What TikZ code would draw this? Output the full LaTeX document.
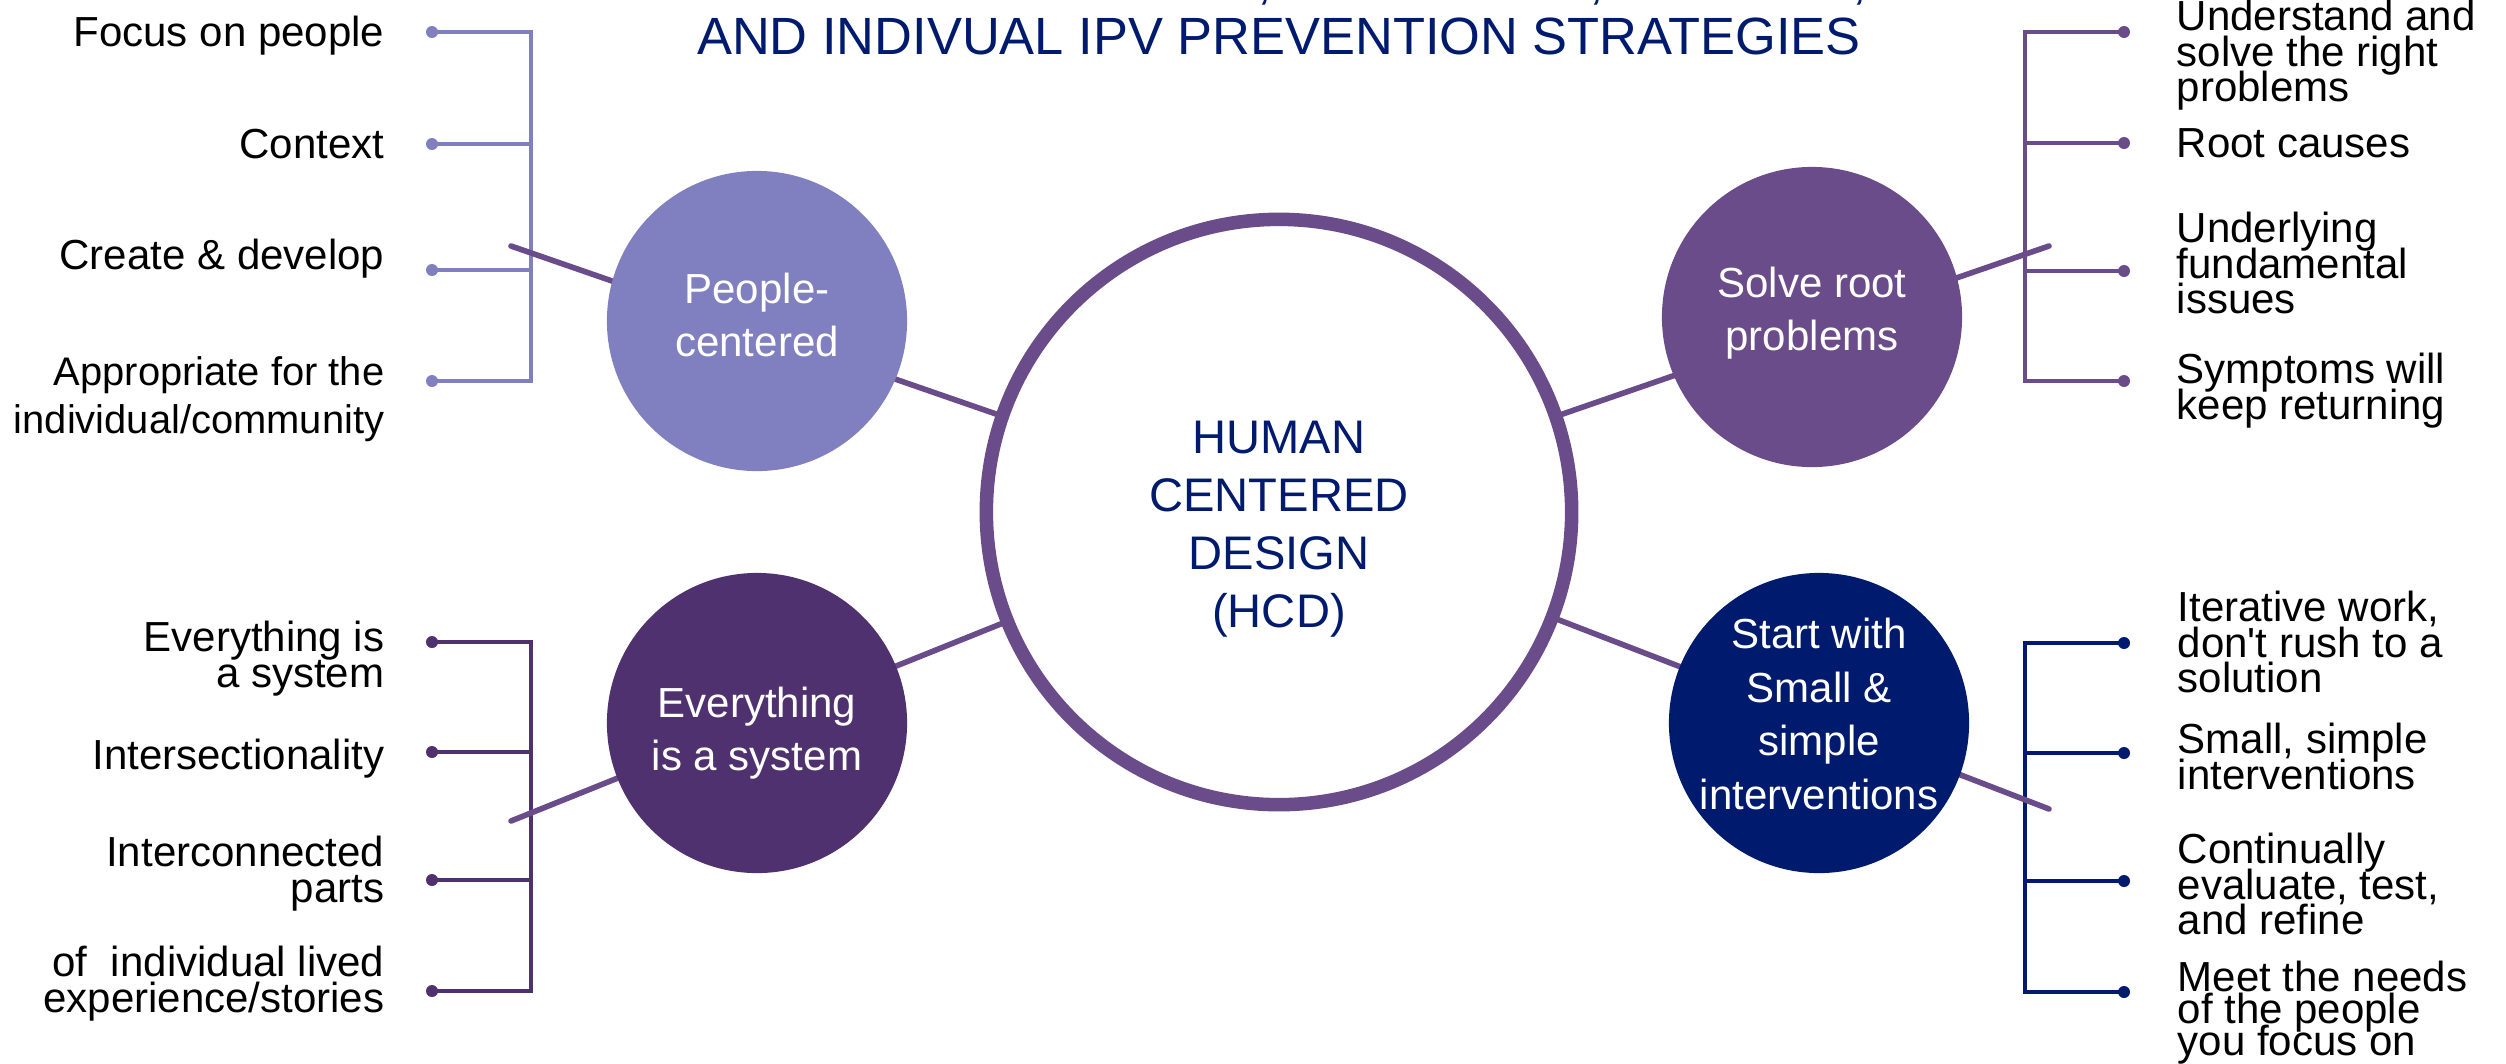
\documentclass[tikz,border=0pt]{standalone}
\usepackage{fontspec}
\setmainfont{Liberation Sans}
\definecolor{lilac}{HTML}{8080C0}
\definecolor{plum}{HTML}{6B4C8A}
\definecolor{grape}{HTML}{4F3170}
\definecolor{ink}{HTML}{001A6E}
\setlength{\lineskiplimit}{-\maxdimen}
\tikzset{
  ttl/.style={text=ink, inner sep=0, font=\fontsize{14.9pt}{17pt}\selectfont},
  hub/.style={circle, draw=plum, line width=3.85pt, fill=white, minimum size=5.85cm, inner sep=0},
  hubtxt/.style={align=center, text=ink, inner sep=0, font=\fontsize{13.4pt}{16.5pt}\selectfont},
  sat/.style={circle, fill=#1, minimum size=3cm, inner sep=0},
  sattxt/.style={align=center, text=white, inner sep=0, font=\fontsize{11.95pt}{15.2pt}\selectfont},
  lbl/.style={inner sep=0, font=\fontsize{11.95pt}{10.2pt}\selectfont},
  brk/.style={draw=#1, line width=1.15pt},
  spoke/.style={draw=plum, line width=1.6pt, line cap=round},
}
\begin{document}
\begin{tikzpicture}[x=0.01cm, y=-0.01cm]
  \useasboundingbox (0,0) rectangle (2506,1063);

  % title
  \node[ttl, anchor=base] (cm1) at (1265,-2) {,};
  \node[ttl, anchor=base] (cm2) at (1597,-2) {,};
  \node[ttl, anchor=base] (cm3) at (1860,-2) {,};
  \node[ttl, anchor=base] (title) at (1279,54) {AND INDIVUAL IPV PREVENTION STRATEGIES};

  % bracket: people-centered
  \coordinate (pc1) at (432,32);
  \coordinate (pc2) at (432,144);
  \coordinate (pc3) at (432,270);
  \coordinate (pc4) at (432,381);
  \coordinate (pcs) at (531,0);
  \draw[brk=lilac] (pc1) -- (pc1 -| pcs) -- (pc4 -| pcs) -- (pc4);
  \draw[brk=lilac] (pc2) -- (pc2 -| pcs) (pc3) -- (pc3 -| pcs);
  \fill[lilac] (pc1) circle (0.06cm) (pc2) circle (0.06cm) (pc3) circle (0.06cm) (pc4) circle (0.06cm);

  % bracket: solve root problems
  \coordinate (sr1) at (2124,32);
  \coordinate (sr2) at (2124,143);
  \coordinate (sr3) at (2124,271);
  \coordinate (sr4) at (2124,381);
  \coordinate (srs) at (2025,0);
  \draw[brk=plum] (sr1) -- (sr1 -| srs) -- (sr4 -| srs) -- (sr4);
  \draw[brk=plum] (sr2) -- (sr2 -| srs) (sr3) -- (sr3 -| srs);
  \fill[plum] (sr1) circle (0.06cm) (sr2) circle (0.06cm) (sr3) circle (0.06cm) (sr4) circle (0.06cm);

  % bracket: everything is a system
  \coordinate (es1) at (432,642);
  \coordinate (es2) at (432,752);
  \coordinate (es3) at (432,880);
  \coordinate (es4) at (432,991);
  \coordinate (ess) at (531,0);
  \draw[brk=grape] (es1) -- (es1 -| ess) -- (es4 -| ess) -- (es4);
  \draw[brk=grape] (es2) -- (es2 -| ess) (es3) -- (es3 -| ess);
  \fill[grape] (es1) circle (0.06cm) (es2) circle (0.06cm) (es3) circle (0.06cm) (es4) circle (0.06cm);

  % bracket: small & simple
  \coordinate (ss1) at (2124,643);
  \coordinate (ss2) at (2124,753);
  \coordinate (ss3) at (2124,881);
  \coordinate (ss4) at (2124,992);
  \coordinate (sss) at (2025,0);
  \draw[brk=ink] (ss1) -- (ss1 -| sss) -- (ss4 -| sss) -- (ss4);
  \draw[brk=ink] (ss2) -- (ss2 -| sss) (ss3) -- (ss3 -| sss);
  \fill[ink] (ss1) circle (0.06cm) (ss2) circle (0.06cm) (ss3) circle (0.06cm) (ss4) circle (0.06cm);

  % central circle
  \node[hub] (hcd) at (1279,512) {};
  \node[hubtxt] (hcdt) at (1279,529) {HUMAN\\CENTERED\\DESIGN\\(HCD)};

  % spokes (behind the small circles)
  \coordinate (pce) at (511,246);
  \coordinate (sre) at (2049,246);
  \coordinate (ese) at (511,821);
  \coordinate (sse) at (2049,809);
  \draw[spoke] (pce) -- (hcd);
  \draw[spoke] (sre) -- (hcd);
  \draw[spoke] (ese) -- (hcd);
  \draw[spoke] (sse) -- (hcd);

  % small circles
  \node[sat=lilac] (pc) at (757,321) {};
  \node[sat=plum] (sr) at (1812,317) {};
  \node[sat=grape] (es) at (757,723) {};
  \node[sat=ink] (ss) at (1819,723) {};
  \node[sattxt] (pct) at (757,315) {People-\\centered};
  \node[sattxt] (srt) at (1812,313) {Solve root\\problems};
  \node[sattxt] (est) at (757,733) {Everything\\is a system};
  \node[sattxt] (sst) at (1819,714) {Start with\\Small \&\\simple\\interventions};

  % left labels
  \node[lbl, anchor=north east] (pcl1) at (385,15) {Focus on people};
  \node[lbl, anchor=north east] (pcl2) at (385,128) {Context};
  \node[lbl, anchor=north east] (pcl3) at (385,238) {Create \& develop};
  \node[lbl, anchor=north east, align=right, font=\fontsize{11.35pt}{13.6pt}\selectfont] (pcl4) at (385,356) {Appropriate for the\\individual/community};
  \node[lbl, anchor=north east, align=right] (esl1) at (385,620) {Everything is\\a system};
  \node[lbl, anchor=north east] (esl2) at (385,738) {Intersectionality};
  \node[lbl, anchor=north east, align=right] (esl3) at (385,835) {Interconnected\\parts};
  \node[lbl, anchor=north east, align=right] (esl4) at (385,945) {of\ \ individual lived\\experience/stories};

  % right labels
  \node[lbl, anchor=north west, align=left] (srl1) at (2176,-1) {Understand and\\solve the right\\problems};
  \node[lbl, anchor=north west] (srl2) at (2176,128) {Root causes};
  \node[lbl, anchor=north west, align=left] (srl3) at (2176,211) {Underlying\\fundamental\\issues};
  \node[lbl, anchor=north west, align=left] (srl4) at (2176,352) {Symptoms will\\keep returning};
  \node[lbl, anchor=north west, align=left] (ssl1) at (2177,590) {Iterative work,\\don\textquotesingle t rush to a\\solution};
  \node[lbl, anchor=north west, align=left] (ssl2) at (2177,722) {Small, simple\\interventions};
  \node[lbl, anchor=north west, align=left] (ssl3) at (2177,832) {Continually\\evaluate, test,\\and refine};
  \node[lbl, anchor=north west, align=left, font=\fontsize{11.95pt}{9.2pt}\selectfont] (ssl4) at (2177,960) {Meet the needs\\of the people\\you focus on};
\end{tikzpicture}
\end{document}
